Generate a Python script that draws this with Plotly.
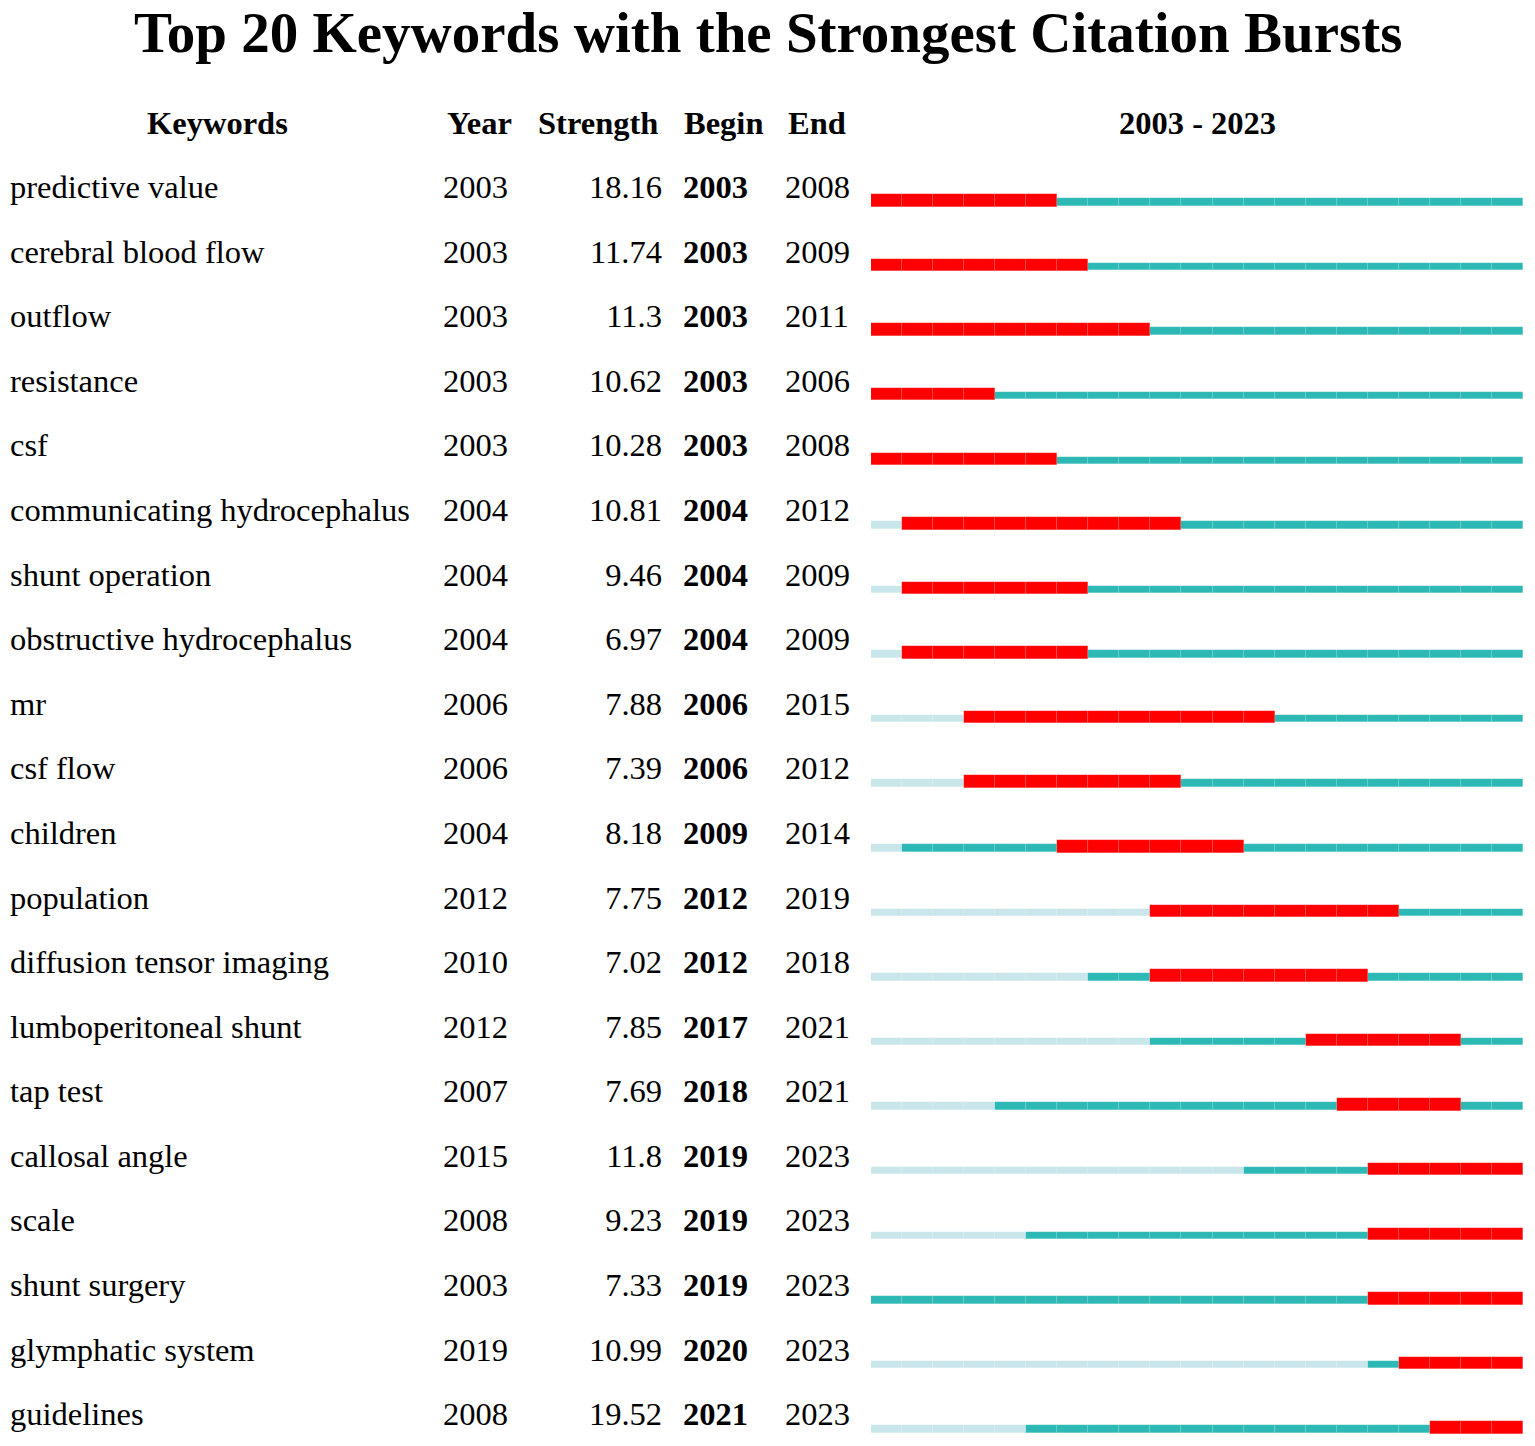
import plotly.graph_objects as go

keywords = ["predictive value", "cerebral blood flow", "outflow", "resistance", "csf",
            "communicating hydrocephalus", "shunt operation", "obstructive hydrocephalus",
            "mr", "csf flow", "children", "population", "diffusion tensor imaging",
            "lumboperitoneal shunt", "tap test", "callosal angle", "scale",
            "shunt surgery", "glymphatic system", "guidelines"]
years = [2003, 2003, 2003, 2003, 2003, 2004, 2004, 2004, 2006, 2006,
         2004, 2012, 2010, 2012, 2007, 2015, 2008, 2003, 2019, 2008]
strength = [18.16, 11.74, 11.3, 10.62, 10.28, 10.81, 9.46, 6.97, 7.88, 7.39,
            8.18, 7.75, 7.02, 7.85, 7.69, 11.8, 9.23, 7.33, 10.99, 19.52]
begin = [2003, 2003, 2003, 2003, 2003, 2004, 2004, 2004, 2006, 2006,
         2009, 2012, 2012, 2017, 2018, 2019, 2019, 2019, 2020, 2021]
end = [2008, 2009, 2011, 2006, 2008, 2012, 2009, 2009, 2015, 2012,
       2014, 2019, 2018, 2021, 2021, 2023, 2023, 2023, 2023, 2023]
first_year, last_year = 2003, 2023

# the page body has an 8px margin, so the figure is a bit smaller and
# every pixel position below is given relative to the figure's corner
PAD = 8
W, H = 1535 - PAD, 1446 - PAD
ROW0, ROWH = 188 - PAD, 64.58  # pixel centre of first row, row pitch
FONT = "Liberation Serif"
RED, TEAL, LIGHT = "#FF0000", "#2CB8B4", "#C9E6EA"

rows = list(range(len(keywords)))
text_rows = [r + 2 / ROWH for r in rows]  # glyphs sit a touch low in the source

# split every keyword's timeline into yearly cells
cells = {"light": ([], []), "teal": ([], []), "red": ([], [])}
for r in rows:
    for yr in range(first_year, last_year + 1):
        if begin[r] <= yr <= end[r]:
            key = "red"
        elif yr >= years[r]:
            key = "teal"
        else:
            key = "light"
        cells[key][0].append(yr)
        cells[key][1].append(r)

fig = go.Figure()

thin_off, thin_w = 14 / ROWH, 7.5 / ROWH
thick_off, thick_w = 12.5 / ROWH, 12.5 / ROWH
for key, color, off, wd in [("light", LIGHT, thin_off, thin_w),
                            ("teal", TEAL, thin_off, thin_w),
                            ("red", RED, thick_off, thick_w)]:
    xs, ys = cells[key]
    fig.add_trace(go.Bar(
        orientation="h", base=xs, x=[1] * len(xs), y=[y + off for y in ys],
        width=wd, marker=dict(color=color, line=dict(color="rgba(255,255,255,0.2)", width=0.5)),
        xaxis="x2", yaxis="y", showlegend=False, hoverinfo="skip"))

txt = dict(family=FONT, size=32.5, color="black")

def col(xpix, labels, pos):
    fig.add_trace(go.Scatter(
        x=[xpix - PAD] * len(labels), y=text_rows, mode="text", text=labels,
        textposition=pos, textfont=txt, xaxis="x", yaxis="y",
        showlegend=False, hoverinfo="skip"))

col(10, keywords, "middle right")
col(443, [str(v) for v in years], "middle right")
col(662, [str(v) for v in strength], "middle left")
col(683, ["<b>%d</b>" % v for v in begin], "middle right")
col(785, [str(v) for v in end], "middle right")

hdr_y = (123 - PAD - ROW0) / ROWH
headers = [("Keywords", 217), ("Year", 479), ("Strength", 598), ("Begin", 723), ("End", 817)]
for label, xp in headers:
    fig.add_annotation(x=xp - PAD, y=hdr_y, xref="x", yref="y", text="<b>%s</b>" % label,
                       showarrow=False, font=txt, xanchor="center", yanchor="middle")
fig.add_annotation(x=(first_year + last_year + 1) / 2, y=hdr_y, xref="x2", yref="y",
                   text="<b>%d - %d</b>" % (first_year, last_year),
                   showarrow=False, font=txt, xanchor="center", yanchor="middle")

fig.add_annotation(x=(768 - PAD) / W, y=1 - (32 - PAD) / H, xref="paper", yref="paper",
                   text="<b>Top 20 Keywords with the Strongest Citation Bursts</b>",
                   showarrow=False, font=dict(family=FONT, size=57, color="black"),
                   xanchor="center", yanchor="middle")

fig.update_layout(
    width=W, height=H, margin=dict(l=0, r=0, t=0, b=0),
    paper_bgcolor="white", plot_bgcolor="white", barmode="overlay", bargap=0,
    xaxis=dict(domain=[0, 1], range=[0, W], visible=False),
    xaxis2=dict(domain=[(871 - PAD) / W, (1523 - PAD) / W], range=[first_year, last_year + 1],
                visible=False, anchor="y"),
    yaxis=dict(domain=[0, 1], range=[(H - ROW0) / ROWH, -ROW0 / ROWH], visible=False),
)

fig.write_html("out.html")
